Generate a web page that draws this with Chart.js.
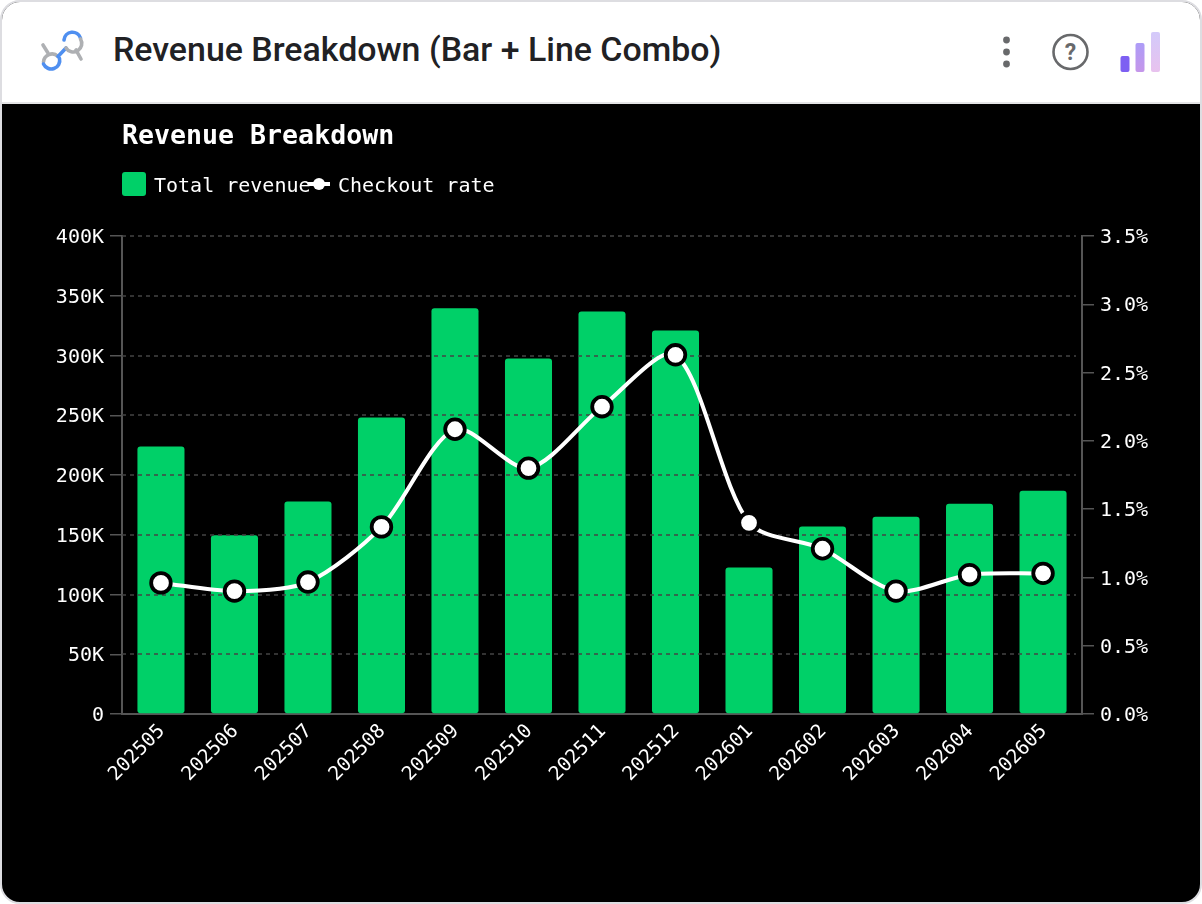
<!DOCTYPE html>
<html>
<head>
<meta charset="utf-8">
<title>Revenue Breakdown (Bar + Line Combo)</title>
<script src="https://cdn.jsdelivr.net/npm/chart.js@4"></script>
<style>
  html, body { margin: 0; padding: 0; background: #fff; }
  .card {
    position: absolute; left: 0; top: 0; width: 1198px; height: 900px;
    border: 2px solid #dddde1; border-radius: 20px; overflow: hidden; background: #000;
  }
  .card-head {
    position: relative; height: 100px; background: #fff; border-bottom: 2px solid #e4e4e6;
  }
  .card-head h1 {
    position: absolute; left: 111px; top: 26px; margin: 0;
    font: 500 33.9px/44px Roboto, sans-serif; color: #212124; white-space: nowrap;
  }
  .card-head svg { position: absolute; left: -2px; top: -2px; }
  .chart-box { position: relative; width: 1198px; height: 798px; }
</style>
</head>
<body>
<div class="card">
  <div class="card-head">
    <h1>Revenue Breakdown (Bar + Line Combo)</h1>
    <svg width="1202" height="102" fill="none">
      <defs>
        <linearGradient id="barB" x1="0" y1="0" x2="0" y2="1"><stop offset="0" stop-color="#ad9cf7"/><stop offset="1" stop-color="#c596ea"/></linearGradient>
        <linearGradient id="barC" x1="0" y1="0" x2="0" y2="1"><stop offset="0" stop-color="#d3cafa"/><stop offset="1" stop-color="#e8c2ee"/></linearGradient>
      </defs>
      <g stroke-width="3.6" stroke-linecap="round">
        <path d="M43 45 L48 53" stroke="#aeb0b3"/>
        <path d="M76 50 L81 59" stroke="#aeb0b3"/>
        <path d="M43.5 62 A8.5 8.5 0 0 1 58 56.5" stroke="#aeb0b3"/>
        <path d="M43.5 64 A8.5 8.5 0 0 0 59.5 58.5" stroke="#4f8ff0"/>
        <path d="M58 56.5 L66 48" stroke="#4f8ff0"/>
        <path d="M64 40 A8.5 8.5 0 0 1 80.5 38" stroke="#4f8ff0"/>
        <path d="M80.5 39 A8.5 8.5 0 0 1 66 48" stroke="#aeb0b3"/>
      </g>
      <circle cx="1006.5" cy="40" r="3.4" fill="#68696b"/>
      <circle cx="1006.5" cy="52" r="3.4" fill="#68696b"/>
      <circle cx="1006.5" cy="64" r="3.4" fill="#68696b"/>
      <circle cx="1070.5" cy="52" r="17" stroke="#68696b" stroke-width="2.6"/>
      <text x="1070.5" y="60" text-anchor="middle" font-family="Roboto" font-weight="700" font-size="23" fill="#68696b">?</text>
      <rect x="1120.5" y="56" width="9" height="16" rx="2" fill="#7d5ff2"/>
      <rect x="1135.5" y="43" width="9" height="29" rx="2" fill="url(#barB)"/>
      <rect x="1151" y="32" width="9" height="40" rx="2" fill="url(#barC)"/>
    </svg>
  </div>
  <div class="chart-box"><canvas id="revenueChart"></canvas></div>
</div>
<script>
'use strict';

const TITLE_TEXT = 'Revenue Breakdown';
const MONTHS = ['202505', '202506', '202507', '202508', '202509', '202510', '202511',
  '202512', '202601', '202602', '202603', '202604', '202605'];
const TOTAL_REVENUE = [223900, 149500, 177900, 248200, 339500, 297500, 336900,
  321000, 122500, 157000, 165000, 176000, 186800];
const CHECKOUT_RATE = [0.96, 0.90, 0.966, 1.37, 2.085, 1.80, 2.25,
  2.63, 1.40, 1.21, 0.90, 1.02, 1.03];

const GREEN = '#00d068';
const AXIS_GREY = '#555555';
const GRID_GREY = '#444444';
const MONO = '"DejaVu Sans Mono", monospace';
const TICK_FONT = '20px ' + MONO;

// dashed grid sits above the bars but below the line
const gridOverBars = {
  id: 'gridOverBars',
  afterDatasetDraw(chart, args) {
    if (args.index !== 0) return;
    const { ctx, chartArea, scales } = chart;
    ctx.save();
    ctx.strokeStyle = GRID_GREY;
    ctx.lineWidth = 1.5;
    ctx.setLineDash([4, 4]);
    scales.y.ticks.forEach(function (tick) {
      if (tick.value === 0) return;
      const y = Math.round(scales.y.getPixelForValue(tick.value));
      ctx.beginPath();
      ctx.moveTo(chartArea.left, y);
      ctx.lineTo(chartArea.right - 6, y);
      ctx.stroke();
    });
    ctx.restore();
  }
};

// tick labels, drawn here so the mono font can sit on the tick centre
const tickLabels = {
  id: 'tickLabels',
  afterDraw(chart) {
    const { ctx, chartArea, scales } = chart;
    ctx.save();
    ctx.fillStyle = '#ffffff';
    ctx.font = TICK_FONT;
    ctx.textBaseline = 'middle';

    ctx.textAlign = 'right';
    scales.y.ticks.forEach(function (tick, i) {
      ctx.fillText(tick.label, chartArea.left - 18, scales.y.getPixelForTick(i) + 2);
    });

    ctx.textAlign = 'left';
    scales.y1.ticks.forEach(function (tick, i) {
      ctx.fillText(tick.label, chartArea.right + 18, scales.y1.getPixelForTick(i) + 2);
    });

    ctx.textAlign = 'right';
    ctx.font = '19.5px ' + MONO;
    scales.x.ticks.forEach(function (tick, i) {
      ctx.save();
      ctx.translate(scales.x.getPixelForTick(i) + 1, chartArea.bottom + 14);
      ctx.rotate(-Math.PI / 4);
      ctx.fillText(tick.label, 0, 0);
      ctx.restore();
    });
    ctx.restore();
  }
};

// title and legend row above the plot
const headerRow = {
  id: 'headerRow',
  afterDraw(chart) {
    const ctx = chart.ctx;
    const left = chart.chartArea.left;
    const data = chart.data.datasets;
    ctx.save();
    ctx.textBaseline = 'middle';
    ctx.fillStyle = '#ffffff';
    ctx.font = 'bold 26.6px ' + MONO;
    ctx.fillText(TITLE_TEXT, left, 33);

    ctx.fillStyle = GREEN;
    ctx.beginPath();
    ctx.roundRect(left, 68, 24, 24, 3);
    ctx.fill();
    ctx.fillStyle = '#ffffff';
    ctx.font = TICK_FONT;
    ctx.fillText(data[0].label, left + 32, 83);
    ctx.fillText(data[1].label, left + 216, 83);

    ctx.strokeStyle = '#ffffff';
    ctx.lineWidth = 4;
    ctx.beginPath();
    ctx.moveTo(left + 186, 80);
    ctx.lineTo(left + 208, 80);
    ctx.stroke();
    ctx.beginPath();
    ctx.arc(left + 197, 80, 6, 0, Math.PI * 2);
    ctx.fill();
    ctx.restore();
  }
};

new Chart(document.getElementById('revenueChart'), {
  data: {
    labels: MONTHS,
    datasets: [
      {
        type: 'bar',
        label: 'Total revenue',
        data: TOTAL_REVENUE,
        yAxisID: 'y',
        order: 2,
        backgroundColor: GREEN,
        borderRadius: 3,
        borderSkipped: false,
        barPercentage: 0.64,
        categoryPercentage: 1
      },
      {
        type: 'line',
        label: 'Checkout rate',
        data: CHECKOUT_RATE,
        yAxisID: 'y1',
        order: 1,
        borderColor: '#ffffff',
        borderWidth: 4,
        tension: 0.28,
        pointRadius: 9.8,
        pointBorderWidth: 3.8,
        pointBackgroundColor: '#ffffff',
        pointBorderColor: '#000000'
      }
    ]
  },
  options: {
    responsive: true,
    maintainAspectRatio: false,
    animation: false,
    layout: { padding: { top: 132 } },
    plugins: { legend: { display: false }, title: { display: false }, tooltip: { enabled: false } },
    scales: {
      x: {
        afterFit: function (scale) { scale.height = 188; },
        // small inset so the first and last bands stay clear of the side axes
        afterUpdate: function (scale) { scale._startValue -= 0.03; scale._valueRange += 0.06; },
        grid: { display: false },
        border: { color: AXIS_GREY, width: 2 },
        ticks: { display: false, autoSkip: false }
      },
      y: {
        position: 'left',
        min: 0,
        max: 400000,
        afterFit: function (scale) { scale.width = 120; },
        border: { color: AXIS_GREY, width: 2 },
        grid: { drawOnChartArea: false, color: AXIS_GREY, tickLength: 12, lineWidth: 1.5 },
        ticks: {
          display: false,
          stepSize: 50000,
          callback: function (value) { return value === 0 ? '0' : value / 1000 + 'K'; }
        }
      },
      y1: {
        position: 'right',
        min: 0,
        max: 3.5,
        afterFit: function (scale) { scale.width = 118; },
        border: { color: AXIS_GREY, width: 2 },
        grid: { drawOnChartArea: false, color: AXIS_GREY, tickLength: 12, lineWidth: 1.5 },
        ticks: {
          display: false,
          stepSize: 0.5,
          callback: function (value) { return value.toFixed(1) + '%'; }
        }
      }
    }
  },
  plugins: [gridOverBars, tickLabels, headerRow]
});
</script>
</body>
</html>
